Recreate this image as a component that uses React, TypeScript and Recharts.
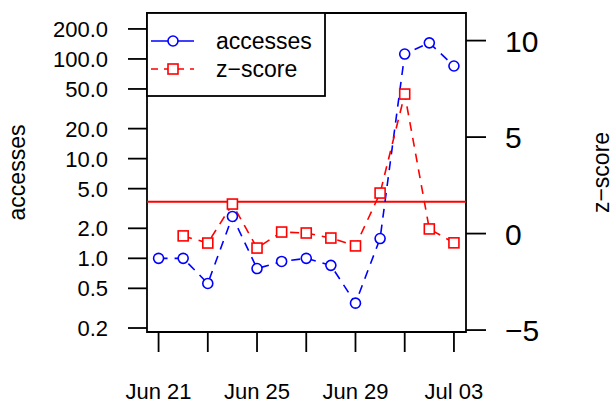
import React from 'react';
import { LineChart, Line, XAxis, YAxis, ReferenceLine, ReferenceArea, Legend } from 'recharts';

const days = ['Jun 21', 'Jun 22', 'Jun 23', 'Jun 24', 'Jun 25', 'Jun 26', 'Jun 27', 'Jun 28', 'Jun 29', 'Jun 30', 'Jul 01', 'Jul 02', 'Jul 03'];
const accesses = [1.0, 1.0, 0.56, 2.63, 0.79, 0.93, 1.0, 0.85, 0.355, 1.58, 112, 145, 85];
const zScores: (number | null)[] = [null, -0.12, -0.49, 1.53, -0.75, 0.08, 0.03, -0.23, -0.64, 2.1, 7.23, 0.24, -0.48];
const accTicks = [0.2, 0.5, 1, 2, 5, 10, 20, 50, 100, 200];
const zTicks = [-5, 0, 5, 10];
const dayTicks = [0, 2, 4, 6, 8, 10, 12];
const labelledDays = [0, 4, 8, 12];
const zThreshold = 1.645;

const data = days.map((d, i) => ({ idx: i, day: d, acc: accesses[i], z: zScores[i] }));

const FONT = '"Liberation Sans", Arial, Helvetica, sans-serif';
const BLUE = '#0000ff';
const RED = '#ff0000';
const xDomain: [number, number] = [-0.47, 12.49];
const accDomain: [number, number] = [0.1824, 289];
const zDomain: [number, number] = [-5.1, 11.43];

const CircleDot = (p: any) => {
  if (p.cx == null || p.cy == null || p.value == null) return <g key={p.key} />;
  return <circle key={p.key} cx={p.cx} cy={p.cy} r={5} fill="white" stroke={BLUE} strokeWidth={1.6} />;
};

const SquareDot = (p: any) => {
  if (p.cx == null || p.cy == null || p.value == null) return <g key={p.key} />;
  return <rect key={p.key} x={p.cx - 5} y={p.cy - 5} width={10} height={10} fill="white" stroke={RED} strokeWidth={1.6} />;
};

const LeftTick = (p: any) => (
  <g>
    <line x1={p.x - 19} x2={p.x} y1={p.y} y2={p.y} stroke="black" strokeWidth={1.8} />
    <text x={p.x - 39} y={p.y} dy={8} textAnchor="end" fontSize={22} fontFamily={FONT} fill="black">
      {p.payload.value.toFixed(1)}
    </text>
  </g>
);

const RightTick = (p: any) => (
  <g>
    <line x1={p.x} x2={p.x + 20} y1={p.y} y2={p.y} stroke="black" strokeWidth={1.8} />
    <text x={p.x + 39} y={p.y} dy={11} textAnchor="start" fontSize={30} fontFamily={FONT} fill="black">
      {p.payload.value < 0 ? '\u2212' + Math.abs(p.payload.value) : p.payload.value}
    </text>
  </g>
);

const BottomTick = (p: any) => (
  <g>
    <line x1={p.x} x2={p.x} y1={p.y} y2={p.y + 20} stroke="black" strokeWidth={1.8} />
    {labelledDays.includes(p.payload.value) && (
      <text x={p.x} y={p.y + 67} textAnchor="middle" fontSize={22} fontFamily={FONT} fill="black">
        {days[p.payload.value]}
      </text>
    )}
  </g>
);

const LegendBox = () => (
  <svg width={180} height={85} style={{ display: 'block' }}>
    <rect x={1} y={1} width={178} height={83} fill="white" stroke="black" strokeWidth={1.8} />
    <line x1={5} x2={48} y1={29} y2={29} stroke={BLUE} strokeWidth={1.6} />
    <circle cx={27} cy={29} r={5} fill="white" stroke={BLUE} strokeWidth={1.6} />
    <text x={70} y={37} fontSize={23} fontFamily={FONT} fill="black">accesses</text>
    <line x1={5} x2={48} y1={57} y2={57} stroke={RED} strokeWidth={1.6} strokeDasharray="7 6" />
    <rect x={22} y={52} width={10} height={10} fill="white" stroke={RED} strokeWidth={1.6} />
    <text x={70} y={65} fontSize={23} fontFamily={FONT} fill="black">z{'\u2212'}score</text>
  </svg>
);

const AxisTitle = (p: any) => {
  const vb = p.viewBox;
  const cy = vb.y + vb.height / 2;
  const x = p.side === 'left' ? 25 : 609;
  return (
    <text x={x} y={cy} transform={`rotate(-90, ${x}, ${cy})`} textAnchor="middle" fontSize={23} fontFamily={FONT} fill="black">
      {p.text}
    </text>
  );
};

export default function App() {
  return (
    <div style={{ position: 'absolute', left: 0, top: 0, width: 613, height: 403, background: 'white' }}>
      <LineChart width={613} height={403} data={data} margin={{ top: 13, right: 0, bottom: 0, left: 0 }}>
        <XAxis
          dataKey="idx"
          type="number"
          domain={xDomain}
          ticks={dayTicks}
          allowDataOverflow
          height={71}
          axisLine={false}
          tickLine={false}
          tickSize={0}
          tickMargin={0}
          tick={BottomTick}
          interval={0}
        />
        <YAxis
          yAxisId="acc"
          scale="log"
          domain={accDomain}
          ticks={accTicks}
          allowDataOverflow
          width={147}
          axisLine={false}
          tickLine={false}
          tickSize={0}
          tickMargin={0}
          tick={LeftTick}
          interval={0}
          label={(props: any) => <AxisTitle {...props} side="left" text="accesses" />}
        />
        <YAxis
          yAxisId="z"
          orientation="right"
          domain={zDomain}
          ticks={zTicks}
          allowDataOverflow
          width={147}
          axisLine={false}
          tickLine={false}
          tickSize={0}
          tickMargin={0}
          tick={RightTick}
          interval={0}
          label={(props: any) => <AxisTitle {...props} side="right" text={'z\u2212score'} />}
        />
        <ReferenceArea
          yAxisId="z"
          x1={xDomain[0]}
          x2={xDomain[1]}
          y1={zDomain[0]}
          y2={zDomain[1]}
          fill="none"
          stroke="black"
          strokeWidth={1.8}
          ifOverflow="visible"
        />
        <ReferenceLine yAxisId="z" y={zThreshold} stroke={RED} strokeWidth={2} />
        <Line
          yAxisId="acc"
          dataKey="acc"
          stroke={BLUE}
          strokeWidth={1.6}
          strokeDasharray="9 7"
          dot={CircleDot}
          activeDot={false}
          isAnimationActive={false}
        />
        <Line
          yAxisId="z"
          dataKey="z"
          stroke={RED}
          strokeWidth={1.6}
          strokeDasharray="9 7"
          dot={SquareDot}
          activeDot={false}
          isAnimationActive={false}
        />
        <Legend
          layout="horizontal"
          verticalAlign="middle"
          align="center"
          content={LegendBox}
          wrapperStyle={{ position: 'absolute', left: 146, top: 12, width: 180, height: 85 }}
        />
      </LineChart>
    </div>
  );
}
